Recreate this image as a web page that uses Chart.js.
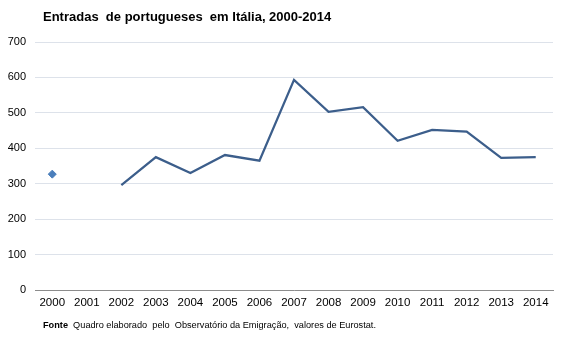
<!DOCTYPE html>
<html>
<head>
<meta charset="utf-8">
<script src="https://cdn.jsdelivr.net/npm/chart.js@4/dist/chart.umd.min.js"></script>
<style>
  html, body { margin: 0; padding: 0; background: #fff; }
  #wrap { position: relative; width: 567px; height: 340px; overflow: hidden; }
  #chart { position: absolute; left: 0; top: 0; }
  #title { position: absolute; left: 43px; top: 9px; font: bold 13px "Liberation Sans", Arial, sans-serif; color: #000; white-space: pre; }
  #note { position: absolute; left: 43px; top: 320px; font: 9.2px "Liberation Sans", Arial, sans-serif; color: #000; white-space: pre; }
  #note b { font-weight: bold; }
</style>
</head>
<body>
<div id="wrap">
  <canvas id="chart" width="567" height="340"></canvas>
  <div id="title">Entradas  de portugueses  em Itália, 2000-2014</div>
  <div id="note"><b>Fonte</b>  Quadro elaborado  pelo  Observatório da Emigração,  valores de Eurostat.</div>
</div>
<script>
const years = ['2000','2001','2002','2003','2004','2005','2006','2007','2008','2009','2010','2011','2012','2013','2014'];
const entradas = [327, null, 296, 375, 330, 381, 365, 593, 503, 516, 421, 452, 447, 373, 375];
const yTicks = [0, 100, 200, 300, 400, 500, 600, 700];

const pointRadii = entradas.map((v, i) => {
  const prev = i > 0 ? entradas[i - 1] : null;
  const next = i < entradas.length - 1 ? entradas[i + 1] : null;
  return (v !== null && prev === null && next === null) ? 4 : 0;
});

new Chart(document.getElementById('chart'), {
  type: 'line',
  data: {
    labels: years,
    datasets: [{
      data: entradas,
      borderColor: '#3c5e8b',
      borderWidth: 2.25,
      tension: 0,
      spanGaps: false,
      pointStyle: 'rectRot',
      pointRadius: pointRadii,
      pointHoverRadius: pointRadii,
      pointBackgroundColor: '#4a7ebb',
      pointBorderColor: '#4a7ebb',
      pointBorderWidth: 1
    }]
  },
  options: {
    responsive: false,
    animation: false,
    devicePixelRatio: 1,
    layout: { padding: { left: 0, top: 42, right: 14, bottom: 0 } },
    plugins: { legend: { display: false }, tooltip: { enabled: false } },
    scales: {
      x: {
        offset: true,
        grid: { display: false, drawTicks: false },
        border: { display: true, color: '#8c8c8c', width: 1 },
        ticks: { color: '#000', font: { family: 'Liberation Sans', size: 11.5 }, padding: 6, maxRotation: 0, autoSkip: false },
        afterFit: s => { s.height = 50; }
      },
      y: {
        min: 0, max: 700,
        afterBuildTicks: s => { s.ticks = yTicks.map(v => ({ value: v })); },
        grid: { color: '#dde2ea', lineWidth: 1, drawTicks: false },
        border: { display: false },
        ticks: { color: '#000', font: { family: 'Liberation Sans', size: 11 }, padding: 9 },
        afterFit: s => { s.width = 35; }
      }
    }
  }
});
</script>
</body>
</html>
